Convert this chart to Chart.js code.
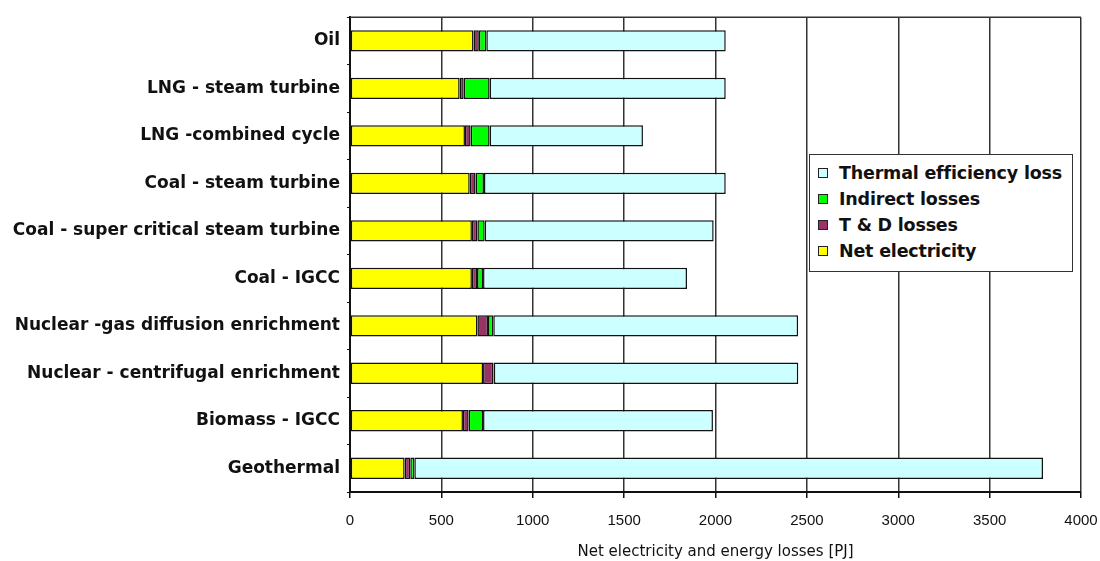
<!DOCTYPE html>
<html>
<head>
<meta charset="utf-8">
<script src="https://cdn.jsdelivr.net/npm/chart.js@4"></script>
<style>
  html, body { margin: 0; padding: 0; background: #fff; }
  #wrap { position: relative; width: 1100px; height: 561px; }
  #legende {
    position: absolute; left: 809px; top: 154px; width: 264px; height: 118px;
    background: #fff; border: 1.5px solid #333; box-sizing: border-box;
    font: bold 17.5px "DejaVu Sans", sans-serif; color: #111;
    padding-top: 5px;
  }
  #legende div { height: 26px; line-height: 26px; padding-left: 8px; white-space: nowrap; letter-spacing: -0.2px; }
  #legende span {
    display: inline-block; width: 8px; height: 8px; border: 1.5px solid #222;
    margin-right: 11px; vertical-align: 1px;
  }
</style>
</head>
<body>
<div id="wrap">
  <canvas id="myChart" width="1100" height="561"></canvas>
  <div id="legende"></div>
</div>
<script>
// Catégories (de haut en bas)
const categories = [
    "Oil",
    "LNG - steam turbine",
    "LNG -combined cycle",
    "Coal - steam turbine",
    "Coal - super critical steam turbine",
    "Coal - IGCC",
    "Nuclear -gas diffusion enrichment",
    "Nuclear - centrifugal enrichment",
    "Biomass - IGCC",
    "Geothermal"
];

// Valeurs [PJ]
const netElectricity = [676, 600, 629, 655, 667, 667, 697, 728, 618, 299];
const tdLosses       = [29, 22, 31, 32, 30, 28, 58, 56, 31, 31];
const indirectLosses = [41, 142, 104, 46, 40, 33, 29, 3, 79, 22];
const thermalLoss    = [1310, 1292, 839, 1323, 1253, 1116, 1668, 1666, 1258, 3440];

const xTicks = [0, 500, 1000, 1500, 2000, 2500, 3000, 3500, 4000];

const seriesNames = ["Net electricity", "T & D losses", "Indirect losses", "Thermal efficiency loss"];
const seriesColors = ["#FFFF00", "#993366", "#00FF00", "#CCFFFF"];

// Légende en HTML (ordre inversé comme dans l'original)
const legende = document.getElementById("legende");
for (let i = seriesNames.length - 1; i >= 0; i--) {
    const ligne = document.createElement("div");
    ligne.innerHTML = '<span style="background:' + seriesColors[i] + '"></span>' + seriesNames[i];
    legende.appendChild(ligne);
}

// Ligne du haut de la zone de tracé
const bordureHaut = {
    id: 'bordureHaut',
    afterDraw(chart) {
        const { ctx, chartArea } = chart;
        ctx.save();
        ctx.strokeStyle = '#333';
        ctx.lineWidth = 1.5;
        ctx.beginPath();
        ctx.moveTo(chartArea.left, chartArea.top);
        ctx.lineTo(chartArea.right, chartArea.top);
        ctx.stroke();
        ctx.restore();
    }
};

const allValues = [netElectricity, tdLosses, indirectLosses, thermalLoss];

const ctx = document.getElementById('myChart').getContext('2d');
const myChart = new Chart(ctx, {
    type: 'bar',
    data: {
        labels: categories,
        datasets: allValues.map((vals, i) => ({
            label: seriesNames[i],
            data: vals,
            backgroundColor: seriesColors[i],
            borderColor: '#111',
            borderWidth: 1.5,
            borderSkipped: false,
            barPercentage: 0.45,
            categoryPercentage: 1
        }))
    },
    options: {
        indexAxis: 'y',
        responsive: false,
        animation: false,
        layout: { padding: { left: 0, right: 19, top: 15, bottom: 0 } },
        plugins: {
            legend: { display: false },
            tooltip: { enabled: false }
        },
        scales: {
            x: {
                stacked: true,
                min: 0,
                max: 4000,
                afterBuildTicks: (scale) => { scale.ticks = xTicks.map(v => ({ value: v })); },
                afterFit: (scale) => {
                    scale.height = 69;
                    scale.paddingLeft = 0;
                    scale.paddingRight = 0;
                },
                border: { color: '#111', width: 2 },
                grid: { color: '#333', lineWidth: 1.5, tickLength: 6, tickColor: '#111' },
                ticks: {
                    color: '#111',
                    padding: 14,
                    maxRotation: 0,
                    callback: (v) => String(v),
                    font: { family: 'Liberation Sans', size: 15 }
                },
                title: {
                    display: true,
                    text: 'Net electricity and energy losses [PJ]',
                    color: '#111',
                    padding: { top: 0, bottom: 0 },
                    font: { family: 'DejaVu Sans', size: 15 }
                }
            },
            y: {
                stacked: true,
                afterFit: (scale) => { scale.width = 350; },
                border: { color: '#111', width: 2 },
                grid: { display: true, drawOnChartArea: false, offset: true, tickLength: 3, tickColor: '#111' },
                ticks: {
                    color: '#111',
                    padding: 7,
                    font: { family: 'DejaVu Sans', size: 17, weight: 'bold' }
                }
            }
        }
    },
    plugins: [bordureHaut]
});
</script>
</body>
</html>
